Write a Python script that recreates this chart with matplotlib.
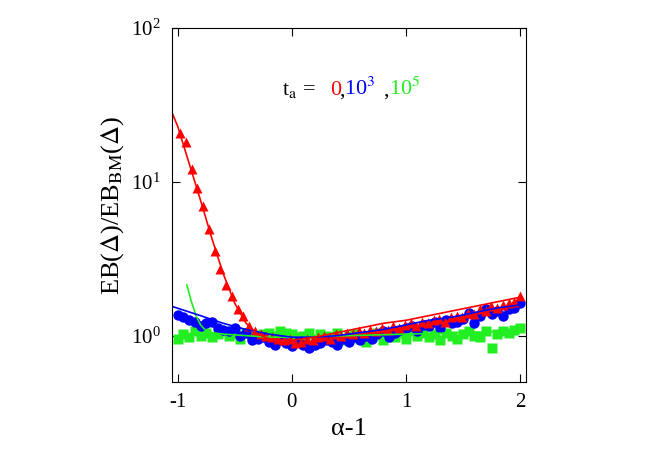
import numpy as np
import matplotlib.pyplot as plt

plt.rcParams["font.family"] = ["Liberation Serif", "DejaVu Serif"]
plt.rcParams["mathtext.fontset"] = "stix"

# log10 of EB/EB_BM
red_log = [1.32, 1.26, 1.08, 0.96, 0.84, 0.69, 0.55, 0.43, 0.33, 0.26, 0.175, 0.13, 0.06, 0.03,
           0.01, 0.0, -0.01, -0.02, -0.03, -0.02, -0.05, -0.04, -0.02, -0.03, -0.01, 0.0, -0.02,
           0.01, 0.0, 0.02, 0.01, 0.03, 0.02, 0.04, 0.03, 0.05, 0.04, 0.06, 0.05, 0.07, 0.08, 0.06,
           0.09, 0.08, 0.1, 0.11, 0.09, 0.12, 0.13, 0.12, 0.15, 0.14, 0.17, 0.16, 0.19, 0.18, 0.2,
           0.21, 0.22, 0.26]
blue_log = [0.135, 0.12, 0.1, 0.09, 0.06, 0.08, 0.09, 0.05, 0.04, 0.03, 0.05, 0.0, 0.02, -0.03,
            -0.02, -0.01, -0.04, -0.06, -0.03, -0.05, -0.07, -0.04, -0.06, -0.08, -0.06, -0.05,
            -0.03, -0.04, -0.06, -0.02, -0.04, -0.01, -0.03, 0.0, -0.02, 0.01, 0.03, -0.01, 0.02,
            0.04, 0.05, 0.06, 0.03, 0.07, 0.06, 0.09, 0.05, 0.1, 0.08, 0.09, 0.11, 0.15, 0.08, 0.13,
            0.17, 0.14, 0.16, 0.13, 0.17, 0.18, 0.21]
green_log = [-0.02, 0.01, -0.01, 0.03, 0.0, 0.02, -0.01, 0.01, 0.03, 0.0, 0.01, -0.02, 0.02, 0.0,
             -0.01, 0.01, 0.02, 0.0, 0.03, 0.02, 0.01, -0.01, 0.0, 0.02, -0.02, 0.01, 0.0, -0.01,
             0.02, -0.03, 0.0, 0.01, -0.02, -0.04, 0.0, 0.02, -0.03, 0.01, -0.01, 0.02, -0.02, 0.03,
             0.0, 0.02, -0.01, 0.01, -0.03, 0.02, 0.0, -0.02, 0.01, 0.03, 0.0, -0.01, 0.03, -0.08,
             0.01, 0.03, 0.02, 0.04, 0.05]

red_fit_x = [-1.05, -1.0, -0.9, -0.8, -0.7, -0.6, -0.5, -0.4, -0.3, -0.2, -0.1, 0, 0.2, 0.4, 0.6,
             0.8, 1.0, 1.2, 1.4, 1.6, 1.8, 2.0]
red_fit_log = [1.45, 1.36, 1.12, 0.88, 0.63, 0.40, 0.21, 0.08, 0.01, -0.02, -0.03, -0.03, -0.01,
               0.02, 0.05, 0.08, 0.1, 0.13, 0.16, 0.19, 0.22, 0.25]
blue_fit_x = [-1.05, -0.8, -0.6, -0.4, -0.2, 0, 0.2, 0.4, 0.6, 0.8, 1.0, 1.2, 1.4, 1.6, 1.8, 2.0]
blue_fit_log = [0.19, 0.13, 0.08, 0.04, 0.01, -0.01, -0.01, 0.0, 0.02, 0.04, 0.07, 0.1, 0.12,
                0.15, 0.18, 0.2]
green_fit_x = [-0.92, -0.88, -0.84, -0.8, -0.75, -0.7, -0.6, -0.4, -0.2, 0, 0.5, 1.0, 1.5, 2.0]
green_fit_log = [0.33, 0.22, 0.13, 0.07, 0.03, 0.02, 0.01, 0.0, -0.01, -0.01, 0.0, 0.01, 0.02,
                 0.03]

RED, BLUE, GREEN = "#ff0000", "#0000ff", "#22ee22"

fig = plt.figure(figsize=(6.54, 4.58), dpi=100)
ax = fig.add_axes([0.263, 0.166, 0.541, 0.773])

x_red = np.linspace(-0.98, 2.0, len(red_log))
x_blue = np.linspace(-1.0, 2.0, len(blue_log))
x_green = np.linspace(-1.0, 2.0, len(green_log))

ax.plot(x_green, 10 ** np.array(green_log), "s", color=GREEN, ms=7, mec="none")
ax.plot(x_blue, 10 ** np.array(blue_log), "o", color=BLUE, ms=7.5, mec="none")
ax.plot(x_red, 10 ** np.array(red_log), "^", color=RED, ms=7.5, mec="none")
ax.plot(green_fit_x, 10 ** np.array(green_fit_log), "-", color=GREEN, lw=1.2)
ax.plot(blue_fit_x, 10 ** np.array(blue_fit_log), "-", color=BLUE, lw=1.2)
ax.plot(red_fit_x, 10 ** np.array(red_fit_log), "-", color=RED, lw=1.2)

ax.set_yscale("log")
ax.set_ylim(0.5, 100)
ax.set_xlim(-1.05, 2.05)
ax.set_xticks([-1, 0, 1, 2])
ax.set_xticklabels(["-1", "0", "1", "2"])
ax.yaxis.set_minor_locator(plt.NullLocator())
ax.tick_params(direction="in", top=True, right=True, labelsize=15, length=6, pad=8)

ax.set_xlabel("α-1", fontsize=19)
ax.set_ylabel(r"EB($\Delta$)/EB$_{\rm BM}$($\Delta$)", fontsize=19)

y_txt = 0.81
ax.text(0.31, y_txt, r"t$_{\rm a}$ =", transform=ax.transAxes, fontsize=16, color="black")
ax.text(0.447, y_txt, "0", transform=ax.transAxes, fontsize=16, color=RED)
ax.text(0.472, y_txt, ",", transform=ax.transAxes, fontsize=16, color="black")
ax.text(0.487, y_txt, r"10$^3$", transform=ax.transAxes, fontsize=16, color=BLUE)
ax.text(0.597, y_txt, ",", transform=ax.transAxes, fontsize=16, color="black")
ax.text(0.612, y_txt, r"10$^5$", transform=ax.transAxes, fontsize=16, color=GREEN)

fig.savefig("out.png", dpi=100)
